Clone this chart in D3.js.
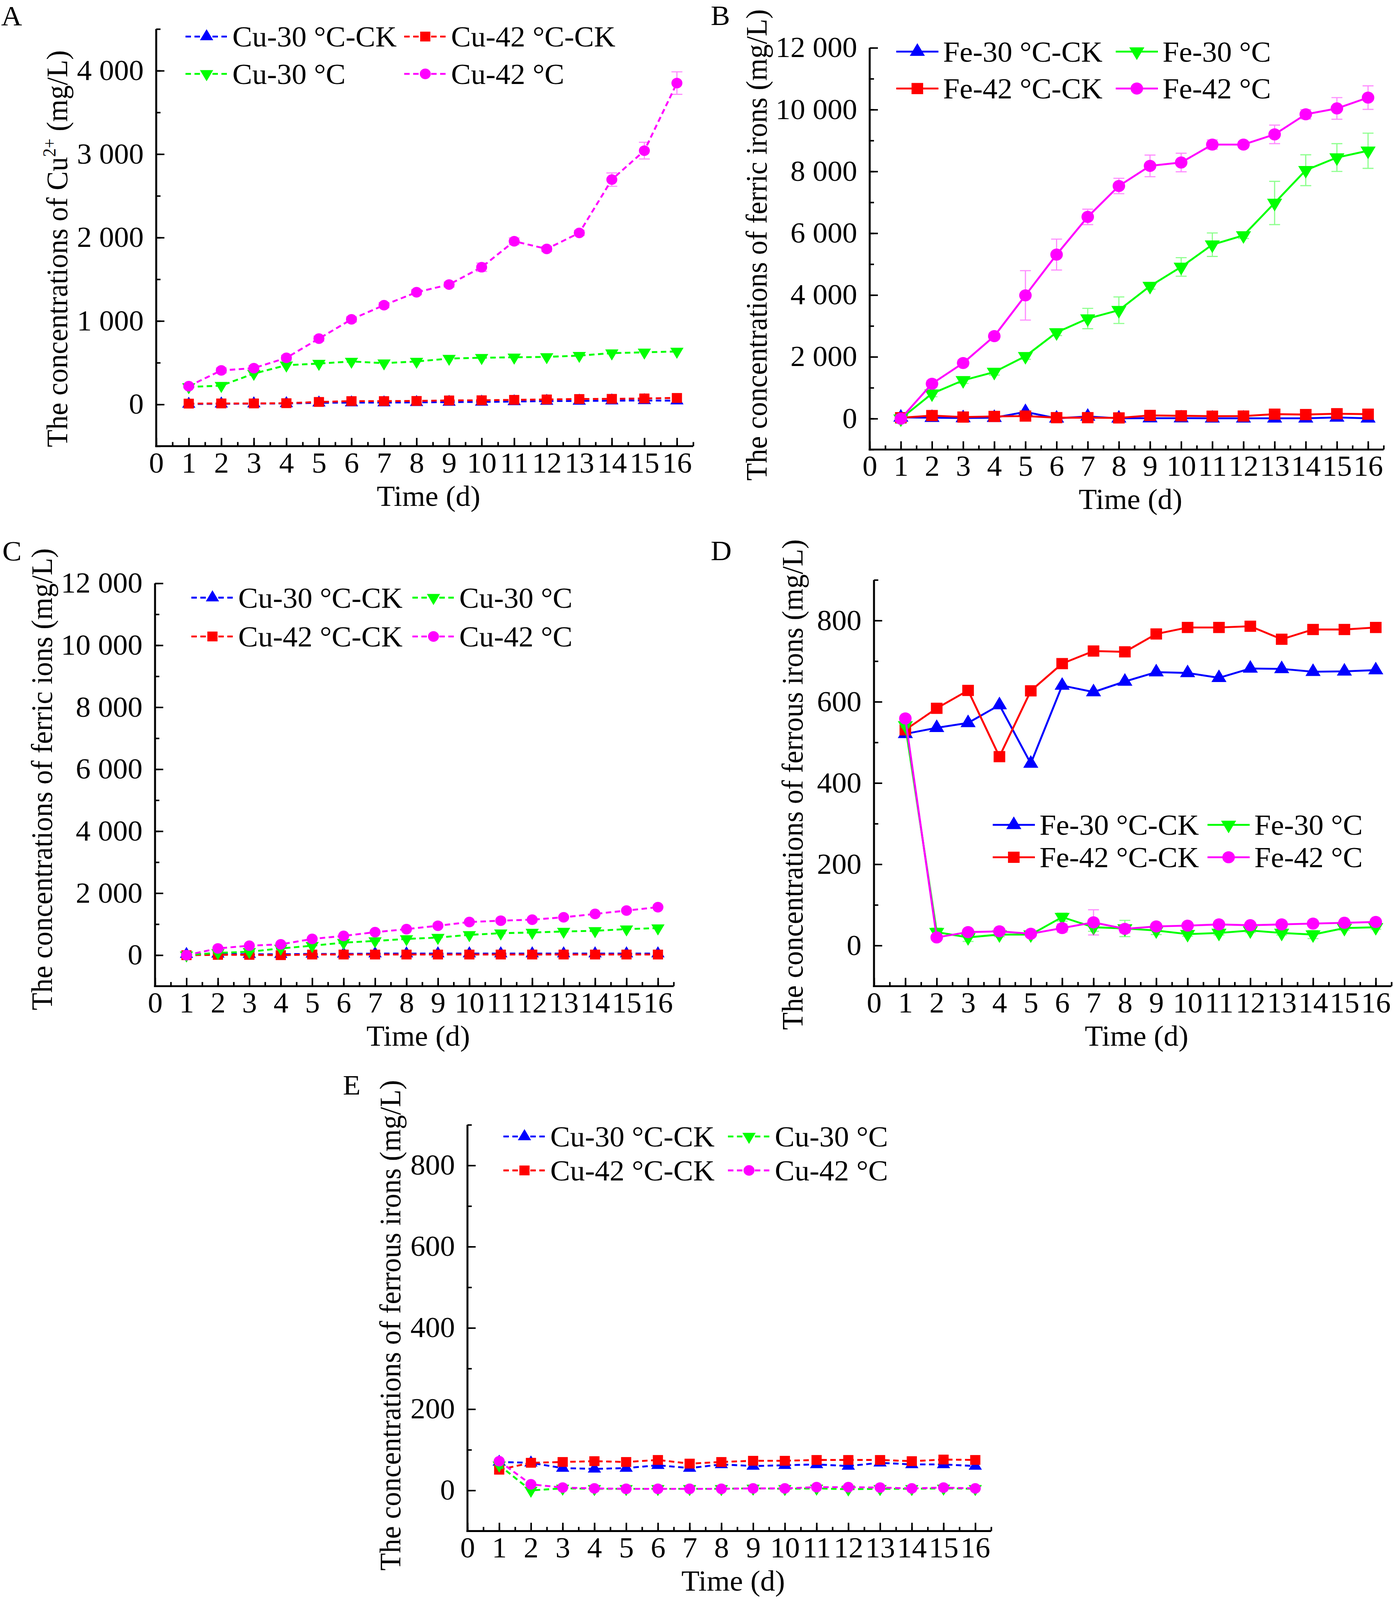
<!DOCTYPE html>
<html>
<head>
<meta charset="utf-8">
<script src="https://cdn.jsdelivr.net/npm/d3@7"></script>
<style>
  html, body { margin: 0; padding: 0; background: #fff; overflow: hidden; }
  svg { display: block; }
</style>
</head>
<body>
<svg id="fig"></svg>
<script>
// days on the x axis
const days = [1, 2, 3, 4, 5, 6, 7, 8, 9, 10, 11, 12, 13, 14, 15, 16];
const xTicks = [0, 1, 2, 3, 4, 5, 6, 7, 8, 9, 10, 11, 12, 13, 14, 15, 16];

// A - Cu2+ in copper leaching
const cuA30ck = [5, 8, 10, 12, 20, 22, 22, 25, 28, 30, 35, 40, 42, 45, 48, 45];
const cuA42ck = [10, 12, 12, 15, 30, 40, 40, 42, 48, 50, 55, 60, 65, 67, 72, 78];
const cuA30 = [210, 225, 370, 470, 490, 515, 495, 515, 550, 560, 565, 570, 585, 615, 625, 635];
const cuA42 = [219, 408, 435, 559, 789, 1020, 1190, 1345, 1437, 1645, 1956, 1864, 2056, 2695, 3042, 3852];
const cuA42err = [20, 30, 30, 30, 30, 30, 30, 30, 30, 50, 40, 30, 30, 80, 100, 135];
const yTicksA = [0, 1000, 2000, 3000, 4000];

// B - ferric iron, Fe runs
const feB30ck = [40, 30, 20, 30, 220, 10, 70, 10, 15, 15, 10, 10, 10, 10, 40, 10];
const feB42ck = [30, 100, 52, 72, 84, 32, 32, 24, 104, 92, 80, 84, 145, 133, 160, 145];
const feB30 = [0, 810, 1240, 1510, 2020, 2790, 3240, 3510, 4290, 4910, 5630, 5930, 6980, 8040, 8450, 8670];
const feB30err = [150, 100, 100, 100, 100, 100, 330, 430, 100, 300, 380, 100, 700, 500, 450, 570];
const feB42 = [0, 1130, 1800, 2670, 3990, 5310, 6530, 7530, 8180, 8290, 8870, 8870, 9200, 9850, 10040, 10390];
const feB42err = [50, 100, 100, 100, 800, 500, 250, 250, 350, 300, 150, 100, 300, 150, 350, 380];
const yTicksBC = [0, 2000, 4000, 6000, 8000, 10000, 12000];

// C - ferric ions, Cu runs
const cuC30ck = [30, 40, 30, 30, 40, 40, 50, 50, 50, 50, 50, 50, 50, 50, 50, 50];
const cuC42ck = [0, 10, 10, 0, 20, 20, 20, 20, 20, 20, 20, 20, 20, 20, 20, 20];
const cuC30 = [0, 76, 110, 218, 305, 404, 458, 524, 567, 655, 709, 731, 764, 785, 840, 873];
const cuC42 = [0, 218, 305, 349, 524, 622, 742, 840, 949, 1069, 1113, 1145, 1222, 1331, 1440, 1549];

// D - ferrous iron, Fe runs
const feD30ck = [521, 536, 548, 592, 448, 640, 624, 650, 673, 671, 659, 682, 681, 674, 675, 678];
const feD42ck = [531, 584, 628, 465, 627, 694, 725, 723, 767, 783, 783, 786, 754, 778, 778, 783];
const feD30 = [542, 33, 20, 27, 27, 70, 45, 42, 37, 28, 31, 37, 31, 27, 43, 45];
const feD30err = [5, 10, 10, 5, 5, 10, 10, 20, 10, 5, 5, 5, 5, 10, 5, 5];
const feD42 = [559, 20, 33, 35, 29, 43, 57, 41, 47, 49, 52, 50, 52, 54, 56, 58];
const feD42err = [5, 5, 5, 5, 5, 10, 31, 10, 5, 5, 5, 5, 5, 5, 5, 5];
const yTicksDE = [0, 200, 400, 600, 800];

// E - ferrous iron, Cu runs
const cuE30ck = [70, 68, 55, 53, 55, 62, 55, 64, 60, 62, 64, 60, 68, 64, 64, 60];
const cuE42ck = [51, 68, 70, 72, 70, 75, 66, 70, 73, 73, 75, 75, 75, 72, 76, 75];
const cuE30 = [62, 0, 5, 4, 4, 4, 4, 4, 5, 4, 5, 3, 4, 4, 5, 4];
const cuE42 = [72, 15, 7, 5, 4, 4, 4, 4, 5, 5, 8, 8, 7, 5, 7, 5];

const BLUE = '#0000ff', RED = '#ff0000', GREEN = '#00ff00', MAGENTA = '#ff00ff';
const FONT = '"Liberation Serif", "Times New Roman", serif';
const FS = 76;
const W = 3567, H = 4246;

// the figure is laid out on a 3567x4246 canvas and stretched to whatever the viewport is
const svg = d3.select('#fig')
  .attr('viewBox', `0 0 ${W} ${H}`)
  .attr('preserveAspectRatio', 'none')
  .attr('width', window.innerWidth || W)
  .attr('height', window.innerHeight || H);
svg.append('rect').attr('width', W).attr('height', H).attr('fill', '#fff');

const fmt = v => d3.format(',')(v).replace(/,/g, ' ');

const panels = [
  {
    label: 'A', lx: 3, ly: 67,
    x0: 400, x1: 1775, yTop: 77, yBot: 1184, yDom: [-500, 4500],
    yTicks: yTicksA, minorStep: 500, dashed: true, small: true,
    title: ['The concentrations of Cu', '2+', ' (mg/L)'], tx: 172, ty: 660,
    series: [
      { name: 'Cu-30 °C-CK', color: BLUE, shape: 'up', v: cuA30ck },
      { name: 'Cu-42 °C-CK', color: RED, shape: 'sq', v: cuA42ck },
      { name: 'Cu-30 °C', color: GREEN, shape: 'down', v: cuA30 },
      { name: 'Cu-42 °C', color: MAGENTA, shape: 'circ', v: cuA42, err: cuA42err }
    ],
    // legend order: row-major
    legend: { x: 475, y: 97, colGap: 560, rowGap: 99, order: [0, 1, 2, 3] }
  },
  {
    label: 'B', lx: 1820, ly: 66,
    x0: 2227, x1: 3543, yTop: 127, yBot: 1193, yDom: [-1000, 12000],
    yTicks: yTicksBC, minorStep: 1000, dashed: false, small: false,
    title: ['The concentrations of ferric irons (mg/L)'], tx: 1963, ty: 650,
    series: [
      { name: 'Fe-30 °C-CK', color: BLUE, shape: 'up', v: feB30ck },
      { name: 'Fe-42 °C-CK', color: RED, shape: 'sq', v: feB42ck },
      { name: 'Fe-30 °C', color: GREEN, shape: 'down', v: feB30, err: feB30err },
      { name: 'Fe-42 °C', color: MAGENTA, shape: 'circ', v: feB42, err: feB42err }
    ],
    legend: { x: 2295, y: 137, colGap: 562, rowGap: 98, order: [0, 2, 1, 3] }
  },
  {
    label: 'C', lx: 6, ly: 1488,
    x0: 397, x1: 1725, yTop: 1548, yBot: 2617, yDom: [-1000, 12000],
    yTicks: yTicksBC, minorStep: 1000, dashed: true, small: true,
    title: ['The concentrations of ferric ions (mg/L)'], tx: 133, ty: 2068,
    series: [
      { name: 'Cu-30 °C-CK', color: BLUE, shape: 'up', v: cuC30ck },
      { name: 'Cu-42 °C-CK', color: RED, shape: 'sq', v: cuC42ck },
      { name: 'Cu-30 °C', color: GREEN, shape: 'down', v: cuC30 },
      { name: 'Cu-42 °C', color: MAGENTA, shape: 'circ', v: cuC42 }
    ],
    legend: { x: 490, y: 1586, colGap: 566, rowGap: 103, order: [0, 2, 1, 3] }
  },
  {
    label: 'D', lx: 1820, ly: 1486,
    x0: 2238, x1: 3563, yTop: 1539, yBot: 2617, yDom: [-100, 900],
    yTicks: yTicksDE, minorStep: 100, dashed: false, small: false,
    title: ['The concentrations of ferrous irons (mg/L)'], tx: 2055, ty: 2082,
    series: [
      { name: 'Fe-30 °C-CK', color: BLUE, shape: 'up', v: feD30ck },
      { name: 'Fe-42 °C-CK', color: RED, shape: 'sq', v: feD42ck },
      { name: 'Fe-30 °C', color: GREEN, shape: 'down', v: feD30, err: feD30err },
      { name: 'Fe-42 °C', color: MAGENTA, shape: 'circ', v: feD42, err: feD42err }
    ],
    legend: { x: 2542, y: 2189, colGap: 550, rowGap: 86, order: [0, 2, 1, 3] }
  },
  {
    label: 'E', lx: 878, ly: 2905,
    x0: 1197, x1: 2538, yTop: 2985, yBot: 4063, yDom: [-100, 900],
    yTicks: yTicksDE, minorStep: 100, dashed: true, small: true,
    title: ['The concentrations of ferrous irons (mg/L)'], tx: 1025, ty: 3517,
    series: [
      { name: 'Cu-30 °C-CK', color: BLUE, shape: 'up', v: cuE30ck },
      { name: 'Cu-42 °C-CK', color: RED, shape: 'sq', v: cuE42ck },
      { name: 'Cu-30 °C', color: GREEN, shape: 'down', v: cuE30 },
      { name: 'Cu-42 °C', color: MAGENTA, shape: 'circ', v: cuE42 }
    ],
    legend: { x: 1289, y: 3016, colGap: 575, rowGap: 90, order: [0, 2, 1, 3] }
  }
];

function symbolPath(shape, small) {
  const k = small ? 1 : 1.3;
  if (shape === 'sq') return d3.symbol(d3.symbolSquare, 680 * k)();
  if (shape === 'circ') return d3.symbol(d3.symbolCircle, 620 * k)();
  return d3.symbol(d3.symbolTriangle, 500 * k)();
}

function drawMarker(g, s, small, cx, cy) {
  g.append('path')
    .attr('d', symbolPath(s.shape, small))
    .attr('transform', `translate(${cx},${cy})` + (s.shape === 'down' ? ' rotate(180)' : ''))
    .attr('fill', s.color);
}

panels.forEach(p => {
  const g = svg.append('g');
  const x = d3.scaleLinear().domain([0, 16.5]).range([p.x0, p.x1]);
  const y = d3.scaleLinear().domain(p.yDom).range([p.yBot, p.yTop]);

  // panel letter
  g.append('text').attr('x', p.lx).attr('y', p.ly)
    .attr('font-family', FONT).attr('font-size', 74).text(p.label);

  // minor ticks
  const yMinor = d3.range(p.yDom[0], p.yDom[1] + 1e-6, p.minorStep);
  const xMinor = d3.range(0, 16.51, 0.5);
  g.append('g').attr('transform', `translate(${p.x0},0)`)
    .call(d3.axisLeft(y).tickValues(yMinor).tickSize(-11).tickSizeOuter(0).tickFormat(''))
    .call(a => a.select('.domain').remove())
    .selectAll('line').attr('stroke-width', 4);
  g.append('g').attr('transform', `translate(0,${p.yBot})`)
    .call(d3.axisBottom(x).tickValues(xMinor).tickSize(-11).tickSizeOuter(0).tickFormat(''))
    .call(a => a.select('.domain').remove())
    .selectAll('line').attr('stroke-width', 4);

  // major y axis
  const ya = g.append('g').attr('transform', `translate(${p.x0},0)`)
    .call(d3.axisLeft(y).tickValues(p.yTicks).tickSize(-21).tickSizeOuter(0).tickPadding(32).tickFormat(fmt));
  ya.select('.domain').attr('stroke-width', 5)
    .attr('d', `M0,${p.yBot + 2.5}V${p.yTop}`);
  ya.selectAll('line').attr('stroke-width', 4);
  ya.selectAll('text').attr('font-family', FONT).attr('font-size', FS).attr('fill', '#000');

  // major x axis
  const xa = g.append('g').attr('transform', `translate(0,${p.yBot})`)
    .call(d3.axisBottom(x).tickValues(xTicks).tickSize(-22).tickSizeOuter(0).tickPadding(16).tickFormat(d3.format('d')));
  xa.select('.domain').attr('stroke-width', 5)
    .attr('d', `M${p.x0 - 2.5},0H${p.x1}`);
  xa.selectAll('line').attr('stroke-width', 4);
  xa.selectAll('text').attr('font-family', FONT).attr('font-size', FS).attr('fill', '#000');

  // axis titles
  g.append('text')
    .attr('x', (p.x0 + p.x1) / 2 + 10).attr('y', p.yBot + 158)
    .attr('text-anchor', 'middle')
    .attr('font-family', FONT).attr('font-size', FS).text('Time (d)');

  const t = g.append('text')
    .attr('transform', `translate(${p.tx},${p.ty}) rotate(-90)`)
    .attr('text-anchor', 'middle')
    .attr('font-family', FONT).attr('font-size', FS);
  if (p.title.length === 3) {
    t.append('tspan').text(p.title[0]);
    t.append('tspan').attr('dy', -30).attr('font-size', 46).text(p.title[1]);
    t.append('tspan').attr('dy', 30).text(p.title[2]);
  } else {
    t.text(p.title[0]);
  }

  // data series
  const line = d3.line().x((d, i) => x(days[i])).y(d => y(d));
  const sw = 5;
  p.series.forEach(s => {
    const sg = g.append('g');
    if (s.err) {
      s.err.forEach((e, i) => {
        const cx = x(days[i]);
        const ya0 = y(s.v[i] - e), ya1 = y(s.v[i] + e);
        sg.append('path')
          .attr('d', `M${cx},${ya0}V${ya1}M${cx - 14},${ya0}H${cx + 14}M${cx - 14},${ya1}H${cx + 14}`)
          .attr('stroke', s.color).attr('stroke-opacity', 0.45).attr('stroke-width', 3).attr('fill', 'none');
      });
    }
    sg.append('path').datum(s.v)
      .attr('d', line)
      .attr('fill', 'none').attr('stroke', s.color).attr('stroke-width', sw)
      .attr('stroke-dasharray', p.dashed ? '14,9' : null);
    s.v.forEach((v, i) => drawMarker(sg, s, p.small, x(days[i]), y(v)));
  });

  // legend
  const L = p.legend;
  L.order.forEach((si, k) => {
    const s = p.series[si];
    const col = k % 2, row = Math.floor(k / 2);
    const lx = L.x + col * L.colGap, ly = L.y + row * L.rowGap;
    const lg = g.append('g');
    lg.append('line').attr('x1', lx).attr('x2', lx + 108).attr('y1', ly).attr('y2', ly)
      .attr('stroke', s.color).attr('stroke-width', sw)
      .attr('stroke-dasharray', p.dashed ? '14,9' : null);
    drawMarker(lg, s, p.small, lx + 54, ly);
    lg.append('text').attr('x', lx + 120).attr('y', ly).attr('dy', '0.35em')
      .attr('font-family', FONT).attr('font-size', FS).text(s.name);
  });
});
</script>
</body>
</html>
